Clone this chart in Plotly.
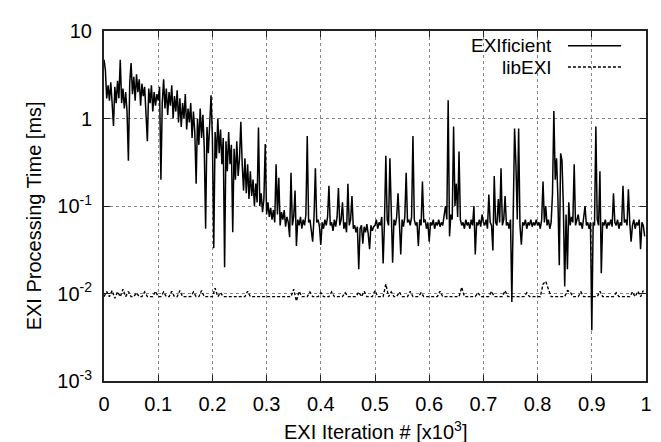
import numpy as np
import plotly.graph_objects as go

# EXIficient processing time [ms], one value every 2.5 iterations (40 per 100 iterations)
exificient_000 = [4.7, 3.6, 1.7, 2.4, 1.6, 2.6, 1.5, 0.82, 2.3, 1.5, 2.7, 1.7, 4.7, 1.5, 2.2, 1.3, 2.0, 1.2, 0.33, 2.6,
                  4.3, 1.9, 3.0, 1.6, 3.2, 2.0, 2.8, 1.4, 2.5, 1.8, 2.3, 1.3, 0.55, 2.2, 1.5, 2.4, 1.2, 2.0, 1.4, 1.9]
exificient_100 = [1.6, 2.3, 0.2, 1.5, 2.8, 1.3, 2.2, 1.1, 2.0, 1.4, 2.4, 1.0, 1.8, 1.2, 2.1, 0.9, 1.7, 0.8, 1.5, 1.0,
                  1.9, 0.75, 1.3, 0.9, 1.5, 0.6, 1.2, 0.7, 0.18, 1.0, 0.5, 1.3, 0.6, 1.1, 0.45, 0.055, 0.8, 0.4, 1.0, 1.84]
exificient_200 = [0.6, 0.033, 0.7, 0.35, 1.0, 0.4, 0.75, 0.3, 0.6, 0.02, 0.55, 0.25, 0.7, 0.3, 0.5, 0.05, 0.45, 0.2, 0.55, 0.22,
                  0.35, 0.92, 0.3, 0.15, 0.35, 0.14, 0.3, 0.12, 0.25, 0.13, 0.2, 0.1, 0.18, 0.11, 0.79, 0.1, 0.14, 0.085, 0.12, 0.51]
exificient_300 = [0.08, 0.11, 0.075, 0.095, 0.07, 0.09, 0.065, 0.3, 0.08, 0.21, 0.06, 0.085, 0.07, 0.09, 0.058, 0.075, 0.065, 0.044, 0.24, 0.06,
                  0.075, 0.15, 0.035, 0.07, 0.06, 0.075, 0.055, 0.07, 0.06, 0.08, 0.63, 0.065, 0.07, 0.055, 0.039, 0.075, 0.27, 0.065, 0.07, 0.058]
exificient_400 = [0.036, 0.065, 0.055, 0.07, 0.06, 0.075, 0.17, 0.06, 0.065, 0.052, 0.07, 0.058, 0.075, 0.16, 0.06, 0.07, 0.11, 0.055, 0.065, 0.05,
                  0.18, 0.06, 0.07, 0.13, 0.055, 0.06, 0.05, 0.058, 0.019, 0.055, 0.06, 0.037, 0.058, 0.05, 0.062, 0.048, 0.032, 0.06, 0.052, 0.058]
exificient_500 = [0.06, 0.07, 0.055, 0.065, 0.06, 0.075, 0.022, 0.065, 0.375, 0.07, 0.06, 0.35, 0.065, 0.0225, 0.07, 0.06, 0.075, 0.14, 0.065, 0.028,
                  0.07, 0.058, 0.075, 0.24, 0.065, 0.07, 0.06, 0.075, 0.63, 0.07, 0.06, 0.065, 0.035, 0.07, 0.06, 0.19, 0.065, 0.07, 0.055, 0.065]
exificient_600 = [0.039, 0.065, 0.06, 0.07, 0.055, 0.065, 0.06, 0.07, 0.058, 0.065, 0.06, 0.075, 0.1, 0.07, 1.62, 0.045, 0.08, 0.07, 0.81, 0.1,
                  0.18, 0.075, 0.42, 0.07, 0.06, 0.065, 0.055, 0.07, 0.06, 0.065, 0.055, 0.07, 0.06, 0.1, 0.028, 0.065, 0.06, 0.07, 0.058, 0.08]
exificient_700 = [0.065, 0.06, 0.07, 0.055, 0.135, 0.065, 0.06, 0.031, 0.22, 0.065, 0.06, 0.12, 0.065, 0.27, 0.06, 0.07, 0.13, 0.06, 0.065, 0.055,
                  0.07, 0.008, 0.065, 0.77, 0.3, 0.07, 0.77, 0.06, 0.036, 0.065, 0.06, 0.07, 0.055, 0.065, 0.06, 0.07, 0.058, 0.065, 0.06, 0.07]
exificient_800 = [0.06, 0.065, 0.055, 0.07, 0.19, 0.065, 0.1, 0.06, 0.07, 0.055, 0.065, 0.14, 1.22, 0.2, 0.35, 0.12, 0.021, 0.4, 0.33, 0.1,
                  0.012, 0.08, 0.019, 0.11, 0.06, 0.075, 0.065, 0.3, 0.06, 0.07, 0.08, 0.06, 0.065, 0.055, 0.07, 0.1, 0.06, 0.065, 0.055, 0.065]
exificient_900 = [0.0038, 0.065, 0.06, 0.81, 0.07, 0.06, 0.25, 0.017, 0.065, 0.06, 0.07, 0.055, 0.065, 0.06, 0.07, 0.058, 0.14, 0.065, 0.06, 0.07,
                  0.055, 0.065, 0.06, 0.17, 0.065, 0.07, 0.06, 0.155, 0.065, 0.039, 0.06, 0.07, 0.055, 0.065, 0.06, 0.07, 0.032, 0.065, 0.06, 0.045]

# libEXI processing time [ms], one value every 5 iterations (20 per 100 iterations)
libexi_000 = [0.0092, 0.0105, 0.0092, 0.0108, 0.0088, 0.0105, 0.0092, 0.0112, 0.0092, 0.0105,
              0.0092, 0.0092, 0.0102, 0.0092, 0.0092, 0.0104, 0.0092, 0.0092, 0.0092, 0.0106]
libexi_100 = [0.0092, 0.0092, 0.0104, 0.0092, 0.0092, 0.0106, 0.0092, 0.0092, 0.0108, 0.0092,
              0.0092, 0.0092, 0.0092, 0.0104, 0.0092, 0.0092, 0.0108, 0.0092, 0.0092, 0.0092]
libexi_200 = [0.0092, 0.0115, 0.0092, 0.0102, 0.0092, 0.0092, 0.0092, 0.0092, 0.0092, 0.0092,
              0.0092, 0.0092, 0.0092, 0.0106, 0.0092, 0.0092, 0.0092, 0.0092, 0.0092, 0.0092]
libexi_300 = [0.0092, 0.0092, 0.0092, 0.0092, 0.0092, 0.0092, 0.0092, 0.0092, 0.0092, 0.0092,
              0.0112, 0.0082, 0.0106, 0.0092, 0.0092, 0.0092, 0.0104, 0.0092, 0.0092, 0.0092]
libexi_400 = [0.0102, 0.0092, 0.0092, 0.0092, 0.0104, 0.0092, 0.0092, 0.0092, 0.0092, 0.0102,
              0.0092, 0.0092, 0.0092, 0.0092, 0.0104, 0.0092, 0.0106, 0.0092, 0.0092, 0.0092]
libexi_500 = [0.0108, 0.0092, 0.0092, 0.0092, 0.0128, 0.0092, 0.0104, 0.0092, 0.0092, 0.0104,
              0.0092, 0.0092, 0.0092, 0.0106, 0.0092, 0.0092, 0.0092, 0.0102, 0.0092, 0.0092]
libexi_600 = [0.0092, 0.0092, 0.0092, 0.0092, 0.0106, 0.0092, 0.0092, 0.0092, 0.0092, 0.0092,
              0.0092, 0.0092, 0.0118, 0.0092, 0.0092, 0.0092, 0.0092, 0.0092, 0.0102, 0.0092]
libexi_700 = [0.0092, 0.0092, 0.0092, 0.0106, 0.0092, 0.0092, 0.0092, 0.0092, 0.0108, 0.0092,
              0.0092, 0.0092, 0.0092, 0.0092, 0.0092, 0.0092, 0.0102, 0.0092, 0.0092, 0.0092]
libexi_800 = [0.0092, 0.0092, 0.0128, 0.0138, 0.0112, 0.0092, 0.0092, 0.0092, 0.0092, 0.0092,
              0.0092, 0.0108, 0.0105, 0.0092, 0.0092, 0.0092, 0.0104, 0.0092, 0.0092, 0.0092]
libexi_900 = [0.0092, 0.0092, 0.0092, 0.0106, 0.0092, 0.0092, 0.0092, 0.0092, 0.0092, 0.0102,
              0.0092, 0.0092, 0.0092, 0.0092, 0.0092, 0.0104, 0.0092, 0.0106, 0.0092, 0.0108]

x_tick_vals = [0, 0.1, 0.2, 0.3, 0.4, 0.5, 0.6, 0.7, 0.8, 0.9, 1]
x_tick_text = ["0", "0.1", "0.2", "0.3", "0.4", "0.5", "0.6", "0.7", "0.8", "0.9", "1"]
y_tick_vals = [0.001, 0.01, 0.1, 1, 10]
y_tick_text = ["10<sup>-3</sup>", "10<sup>-2</sup>", "10<sup>-1</sup>", "1", "10"]

exificient = (exificient_000 + exificient_100 + exificient_200 + exificient_300 + exificient_400 +
              exificient_500 + exificient_600 + exificient_700 + exificient_800 + exificient_900)
libexi = (libexi_000 + libexi_100 + libexi_200 + libexi_300 + libexi_400 +
          libexi_500 + libexi_600 + libexi_700 + libexi_800 + libexi_900)

# iteration index in thousands
x_exi = np.arange(len(exificient)) * 2.5 / 1000.0
x_lib = np.arange(len(libexi)) * 5.0 / 1000.0

FONT = "Liberation Sans, Arial, Helvetica, sans-serif"
FS = 20
KEY_FS = 19

fig = go.Figure()
fig.add_trace(go.Scatter(x=x_exi, y=exificient, mode="lines", name="EXIficient",
                         line=dict(color="black", width=1.5), showlegend=False))
fig.add_trace(go.Scatter(x=x_lib, y=libexi, mode="lines", name="libEXI",
                         line=dict(color="black", width=1.4, dash="3px,2px"), showlegend=False))

axis_common = dict(showline=True, linecolor="#222", linewidth=2, mirror="ticks",
                   ticks="inside", ticklen=6, tickcolor="#222", tickwidth=1,
                   showgrid=True, gridcolor="#888", gridwidth=1, griddash="dot",
                   zeroline=False, tickfont=dict(family=FONT, size=FS, color="black"))

fig.update_xaxes(range=[0, 1], tickvals=x_tick_vals, ticktext=x_tick_text,
                 ticklabelstandoff=4, **axis_common)
fig.update_yaxes(type="log", range=[-3, 1], tickvals=y_tick_vals, ticktext=y_tick_text,
                 ticklabelstandoff=6, **axis_common)

# gnuplot-style key: text right-aligned, sample line on the right
key_items = [("EXIficient", "solid", 0.958), ("libEXI", "3px,2px", 0.897)]
for label, dash, ky in key_items:
    fig.add_annotation(x=0.828, y=ky, xref="paper", yref="paper", text=label, showarrow=False,
                       xanchor="right", yanchor="middle", borderpad=0,
                       font=dict(family=FONT, size=KEY_FS, color="black"))
    fig.add_shape(type="line", xref="paper", yref="paper", x0=0.856, x1=0.954, y0=ky, y1=ky,
                  line=dict(color="black", width=1.4, dash=dash))

fig.add_annotation(x=0.5, y=-0.142, xref="paper", yref="paper", text="EXI Iteration # [x10<sup>3</sup>]",
                   showarrow=False, xanchor="center", yanchor="middle",
                   font=dict(family=FONT, size=FS, color="black"))
fig.add_annotation(x=-0.13, y=0.472, xref="paper", yref="paper", text="EXI Processing Time [ms]",
                   showarrow=False, xanchor="center", yanchor="middle", textangle=-90,
                   font=dict(family=FONT, size=FS, color="black"))

fig.update_layout(width=661, height=442, margin=dict(l=96, r=23, t=14, b=69),
                  plot_bgcolor="white", paper_bgcolor="white")

fig.write_html("out.html")
